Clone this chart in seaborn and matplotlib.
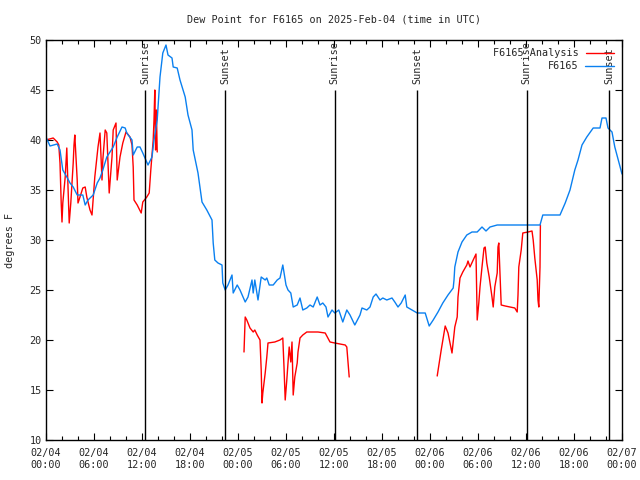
import pandas as pd
import matplotlib
matplotlib.use('Agg')
import matplotlib.pyplot as plt
import matplotlib.dates as mdates
from matplotlib.lines import Line2D
import seaborn as sns

# hours after 2025-02-04 00:00 UTC
START = pd.Timestamp('2025-02-04 00:00')

obs_hours = [0, 0.5, 1.4, 1.75, 2.1, 2.6, 3, 3.4, 3.9, 4.6, 4.9, 5.25, 5.9, 6.4, 6.75, 7.1, 7.6,
             8.4, 8.9, 9.5, 9.9, 10.1, 10.75, 10.9, 11.4, 11.75, 12.1, 12.75, 13.25, 13.5, 13.9,
             14.25, 14.6, 15, 15.25, 15.75, 15.9, 16.4, 16.75, 17.4, 17.75, 18.25, 18.4, 19, 19.5,
             20.1, 20.75, 20.9, 21.1, 21.5, 22, 22.1, 22.4, 22.75, 23.25, 23.4, 23.9, 24.25, 24.9,
             25.25, 25.75, 25.9, 26.1, 26.5, 26.9, 27.4, 27.6, 27.9, 28.4, 28.9, 29.25, 29.6, 30,
             30.25, 30.6, 30.9, 31.4, 31.75, 32.1, 32.6, 33, 33.4, 33.9, 34.25, 34.6, 35, 35.25,
             35.75, 36.1, 36.6, 37.1, 37.6, 38, 38.6, 39.25, 39.5, 40.1, 40.5, 40.9, 41.25, 41.75,
             42.1, 42.6, 43.25, 43.6, 44, 44.4, 44.9, 45.1, 45.75, 46.4, 47.4, 47.9, 48.4, 49,
             49.6, 50.25, 50.9, 51, 51.1, 51.5, 52, 52.6, 53.25, 53.9, 54.5, 55, 55.5, 56.4,
             61.75, 62.1, 64.25, 64.9, 65.5, 66.1, 66.5, 67, 67.6, 68.4, 69.25, 69.5, 70, 70.25,
             70.75, 71.1, 72]
obs_dewpt = [40.3, 39.4, 39.6, 39, 37, 36.3, 35.7, 35.3, 34.5, 34.5, 33.5, 34, 34.5, 35.7, 36.2, 37, 38.3,
             39.3, 40.3, 41.3, 41.2, 40.7, 40, 38.5, 39.3, 39.3, 38.7, 37.5, 38.3, 40, 42,
             46.3, 48.7, 49.5, 48.5, 48.2, 47.3, 47.2, 46, 44.3, 42.5, 41, 39, 36.7, 33.8,
             33, 32, 29.7, 28, 27.7, 27.5, 25.7, 25, 25.5, 26.5, 24.7, 25.5, 25, 23.8,
             24.3, 26, 24.7, 26, 24, 26.3, 26, 26.2, 25.5, 25.5, 26, 26.2, 27.5, 25.5,
             25, 24.7, 23.3, 23.5, 24.2, 23, 23.2, 23.5, 23.3, 24.3, 23.5, 23.7, 23.3, 22.3,
             23, 22.7, 23, 21.8, 23, 22.5, 21.5, 22.5, 23.2, 23, 23.3, 24.3, 24.6, 24,
             24.2, 24, 24.2, 23.8, 23.3, 23.7, 24.5, 23.3, 23, 22.7, 22.7, 21.4, 22, 22.8,
             23.7, 24.5, 25.2, 26, 27.3, 28.8, 29.8, 30.5, 30.8, 30.8, 31.3, 30.9, 31.3, 31.5,
             31.5, 32.5, 32.5, 33.7, 35, 37, 38, 39.5, 40.3, 41.2, 41.2, 42.2, 42.2, 41.2,
             40.8, 39.3, 36.6]

# analysis series, three separate pieces
ana_hours_1 = [0, 0.9, 1.4, 1.6, 1.75, 1.9, 2, 2.1, 2.4, 2.6, 2.75, 2.9, 3.1, 3.4, 3.5, 3.6, 3.9, 4,
               4.25, 4.6, 4.9, 5.1, 5.5, 5.75, 6.1, 6.5, 6.75, 7, 7.1, 7.4, 7.6, 7.9, 8.25, 8.4,
               8.75, 8.9, 9.25, 9.6, 10, 10.5, 10.75, 10.9, 11, 11.4, 11.9, 12.1, 12.6, 12.9,
               13.1, 13.4, 13.5, 13.6, 13.7, 13.8, 13.9]
ana_dewpt_1 = [40, 40.2, 39.8, 39.5, 37.7, 33.7, 31.8, 33.7, 36.3, 39.2, 35.3, 31.7, 33.7, 37.7, 39.5, 40.5, 36, 33.7,
               34.3, 35.2, 35.3, 34.3, 33, 32.5, 36.3, 39.3, 40.7, 36, 38, 41, 40.7, 34.7, 38.3, 41,
               41.7, 36, 38.3, 39.7, 40.8, 40.3, 39.5, 37.3, 34, 33.5, 32.7, 33.8, 34.3, 34.7,
               37, 40, 42, 45, 39, 43, 38.8]
ana_hours_2 = [24.75, 24.9, 25.1, 25.5, 25.9, 26.1, 26.4, 26.75, 26.9, 27, 27.1, 27.4, 27.6, 27.75,
               28.6, 29.25, 29.6, 29.75, 29.9, 30.1, 30.25, 30.4, 30.6, 30.75, 30.9, 31.1, 31.4,
               31.5, 31.75, 32.1, 32.6, 33.25, 34, 34.9, 35.5, 36.1, 36.75, 37.4, 37.6, 37.75, 37.9]
ana_dewpt_2 = [18.8, 22.3, 22, 21.2, 20.8, 21, 20.5, 20, 17, 13.7, 14.7, 16.7, 18.3, 19.7,
               19.8, 20, 20.2, 17.3, 14, 16, 17.7, 19.3, 17.8, 19.8, 14.5, 16.3, 17.7,
               18.8, 20.2, 20.5, 20.8, 20.8, 20.8, 20.7, 19.8, 19.7, 19.6, 19.5, 19.3, 17.8, 16.3]
ana_hours_3 = [48.9, 49.4, 49.9, 50.25, 50.75, 51.1, 51.4, 51.5, 51.75, 52.1, 52.6, 52.75, 53, 53.4,
               53.75, 53.9, 54.1, 54.25, 54.5, 54.75, 54.9, 55.1, 55.4, 55.75, 55.9, 56.1, 56.4,
               56.5, 56.6, 56.9, 57.4, 58, 58.6, 58.9, 59, 59.1, 59.4, 59.6, 60.25, 60.75, 60.9,
               61.1, 61.4, 61.5, 61.6, 61.75, 61.8]
ana_dewpt_3 = [16.4, 19, 21.4, 20.7, 18.7, 21.3, 22.3, 24.3, 26.2, 26.8, 27.5, 27.9, 27.3, 28,
               28.6, 22, 23.7, 25.3, 27.3, 29.2, 29.3, 27.7, 26.3, 24.3, 23.3, 25.3, 26.7,
               29.3, 29.7, 23.5, 23.4, 23.3, 23.2, 22.8, 24.5, 27.3, 29, 30.7, 30.8, 30.9, 30,
               28.2, 26, 24, 23.3, 27.3, 31.5]

sun_hours = [12.4, 22.4, 36.1, 46.4, 60.1, 70.4]
sun_labels = ['Sunrise', 'Sunset', 'Sunrise', 'Sunset', 'Sunrise', 'Sunset']

RED = '#ff0000'
BLUE = '#0a80f0'


def to_time(hours):
    return START + pd.to_timedelta(hours, unit='h')


obs = pd.DataFrame({'time': to_time(obs_hours), 'dewpt': obs_dewpt})
pieces = []
for i, (h, v) in enumerate([(ana_hours_1, ana_dewpt_1), (ana_hours_2, ana_dewpt_2),
                            (ana_hours_3, ana_dewpt_3)]):
    pieces.append(pd.DataFrame({'time': to_time(h), 'dewpt': v, 'piece': i}))
ana = pd.concat(pieces, ignore_index=True)

sns.set_style('ticks')
plt.rcParams['font.family'] = ['DejaVu Sans Mono']
FS = 7.3

fig = plt.figure(figsize=(6.4, 4.8), dpi=100)
ax = fig.add_axes([46 / 640, 40 / 480, 576 / 640, 400 / 480])

sns.lineplot(data=ana, x='time', y='dewpt', units='piece', estimator=None,
             color=RED, linewidth=1.0, ax=ax, legend=False)
sns.lineplot(data=obs, x='time', y='dewpt', estimator=None,
             color=BLUE, linewidth=1.0, ax=ax, legend=False)

sun_times = to_time(sun_hours)
ax.vlines(sun_times, 10, 45, color='black', linewidth=1.0)
for t, lab in zip(sun_times, sun_labels):
    ax.annotate(lab, xy=(t, 45), xytext=(0, 4), textcoords='offset points',
                rotation=90, ha='center', va='bottom', fontsize=FS)

ax.set_xlim(to_time(0), to_time(72))
ax.set_ylim(10, 50)
ax.set_yticks(range(10, 51, 5))
ax.xaxis.set_major_locator(mdates.HourLocator(byhour=[0, 6, 12, 18]))
ax.xaxis.set_minor_locator(mdates.HourLocator(interval=2))
ax.xaxis.set_major_formatter(mdates.DateFormatter('%m/%d\n%H:%M'))
ax.tick_params(axis='both', which='both', direction='in', top=True, right=True,
               labelsize=FS, width=0.8, color='black')
ax.tick_params(axis='both', which='major', length=5)
ax.tick_params(axis='x', which='major', pad=6)
ax.tick_params(axis='y', which='major', pad=3)
ax.tick_params(axis='x', which='minor', length=3)
for s in ax.spines.values():
    s.set_linewidth(1.0)
    s.set_color('black')
ax.set_xlabel('')
ax.set_ylabel('')

handles = [Line2D([], [], color=RED, linewidth=1.0), Line2D([], [], color=BLUE, linewidth=1.0)]
ax.legend(handles, ['F6165 Analysis', 'F6165'], loc='upper right', frameon=False,
          markerfirst=False, fontsize=FS, handlelength=2.8, borderaxespad=0.6,
          borderpad=0.2, labelspacing=0.3, handletextpad=0.7)

fig.text(0.5 * (46 + 622) / 640, 1 - 19 / 480, 'Dew Point for F6165 on 2025-Feb-04 (time in UTC)',
         ha='center', va='center', fontsize=FS)
fig.text(10 / 640, 0.5, 'degrees F', rotation=90, ha='center', va='center', fontsize=FS)

fig.savefig('out.png', dpi=100)
